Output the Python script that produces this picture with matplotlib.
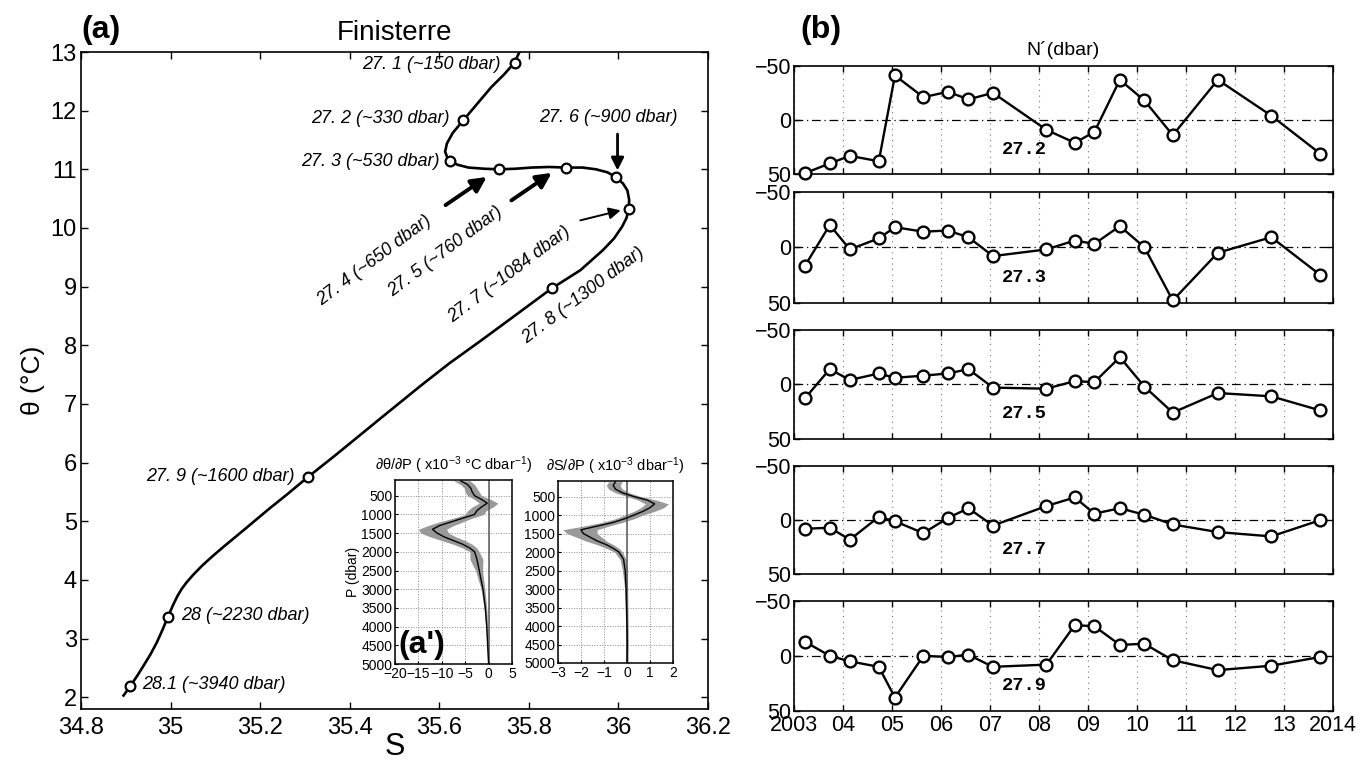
import matplotlib
matplotlib.use('Agg')
import matplotlib.pyplot as plt

plt.rcParams['font.family'] = ['Liberation Sans', 'DejaVu Sans']
plt.rcParams['mathtext.fontset'] = 'custom'
plt.rcParams['mathtext.rm'] = 'Liberation Sans'
plt.rcParams['mathtext.it'] = 'Liberation Sans:italic'
plt.rcParams['axes.unicode_minus'] = True

# ---------------- Data: theta-S curve (Finisterre) ----------------
ts_S = [35.779, 35.768, 35.745, 35.716, 35.685, 35.654, 35.630, 35.617, 35.613, 35.618,
        35.625, 35.640, 35.665, 35.700, 35.733, 35.770, 35.806, 35.845, 35.883, 35.920,
        35.950, 35.975, 35.994, 36.010, 36.020, 36.024, 36.023, 36.018, 36.008, 35.990,
        35.965, 35.915, 35.851, 35.766, 35.693, 35.622, 35.560, 35.510, 35.468, 35.428,
        35.367, 35.306, 35.262, 35.218, 35.168, 35.119, 35.093, 35.070, 35.052, 35.037,
        35.025, 35.015, 35.006, 34.994, 34.982, 34.969, 34.955, 34.939, 34.925, 34.910,
        34.895]
ts_theta = [13.0, 12.82, 12.62, 12.40, 12.12, 11.84, 11.62, 11.44, 11.30, 11.20,
            11.14, 11.08, 11.03, 11.01, 11.0, 11.01, 11.03, 11.04, 11.03, 11.03,
            11.0, 10.95, 10.87, 10.76, 10.64, 10.48, 10.33, 10.17, 10.02, 9.82,
            9.62, 9.28, 8.97, 8.49, 8.08, 7.69, 7.32, 7.01, 6.75, 6.50,
            6.12, 5.75, 5.47, 5.20, 4.88, 4.57, 4.40, 4.24, 4.10, 3.97,
            3.85, 3.72, 3.58, 3.37, 3.15, 2.93, 2.73, 2.53, 2.36, 2.19,
            2.03]

iso_S = [35.768, 35.654, 35.625, 35.733, 35.883, 35.994, 36.023, 35.851, 35.306, 34.994, 34.910]
iso_theta = [12.82, 11.84, 11.14, 11.0, 11.03, 10.87, 10.33, 8.97, 5.75, 3.37, 2.19]
iso_labels = ['27. 1 (~150 dbar)', '27. 2 (~330 dbar)', '27. 3 (~530 dbar)',
              '27. 4 (~650 dbar)', '27. 5 (~760 dbar)', '27. 6 (~900 dbar)',
              '27. 7 (~1084 dbar)', '27. 8 (~1300 dbar)', '27. 9 (~1600 dbar)',
              '28 (~2230 dbar)', '28.1 (~3940 dbar)']

# ---------------- Data: inset profiles ----------------
inset_P = [100, 200, 300, 400, 500, 600, 700, 800, 900, 1000, 1100, 1200, 1300, 1400,
           1500, 1600, 1700, 1800, 1900, 2000, 2200, 2500, 3000, 3500, 4000, 4500, 5000]
dtheta_mean = [-6.0, -4.5, -3.8, -3.5, -3.0, -1.5, -0.3, -1.5, -2.5, -3.0, -5.5, -8.0, -10.5, -12.0,
               -11.0, -9.5, -7.5, -5.5, -4.0, -3.0, -2.5, -2.0, -1.2, -0.7, -0.4, -0.2, 0.0]
dtheta_lo = [-7.5, -6.0, -5.2, -5.0, -4.5, -3.0, -2.0, -3.5, -4.5, -5.0, -7.5, -10.5, -13.0, -15.0,
             -14.5, -12.5, -10.0, -7.5, -5.5, -4.0, -4.0, -2.8, -1.6, -1.0, -0.6, -0.35, -0.2]
dtheta_hi = [-4.0, -3.0, -2.5, -2.0, -1.5, 0.5, 2.0, 1.0, -0.5, -1.0, -3.5, -5.5, -7.5, -9.0,
             -8.5, -7.0, -5.0, -3.5, -2.5, -2.0, -1.2, -1.3, -0.8, -0.4, -0.2, -0.05, 0.1]
dS_mean = [-0.5, -0.6, -0.5, -0.2, 0.3, 0.9, 1.2, 1.0, 0.7, 0.3, -0.1, -0.6, -1.3, -2.0,
           -1.9, -1.6, -1.3, -0.9, -0.6, -0.35, -0.15, -0.08, -0.04, -0.02, 0.0, 0.01, 0.0]
dS_lo = [-0.8, -0.9, -0.8, -0.5, 0.0, 0.5, 0.8, 0.6, 0.3, -0.1, -0.5, -1.1, -1.9, -2.8,
         -2.6, -2.2, -1.8, -1.3, -0.9, -0.55, -0.3, -0.2, -0.1, -0.08, -0.06, -0.05, -0.05]
dS_hi = [-0.2, -0.3, -0.2, 0.1, 0.6, 1.3, 1.8, 1.6, 1.2, 0.7, 0.3, -0.2, -0.8, -1.3,
         -1.3, -1.1, -0.9, -0.6, -0.35, -0.2, -0.05, 0.02, 0.03, 0.04, 0.05, 0.06, 0.05]

# ---------------- Data: N' time series ----------------
dates = [2003.22, 2003.73, 2004.14, 2004.73, 2005.06, 2005.64, 2006.14, 2006.56, 2007.06,
         2008.15, 2008.73, 2009.13, 2009.65, 2010.15, 2010.73, 2011.65, 2012.74, 2013.74]
n_27_2 = [49, 40, 33, 38, -41, -21, -26, -19, -25, 9, 21, 11, -37, -18, 14, -37, -4, 31]
n_27_3 = [17, -20, 2, -8, -18, -14, -15, -9, 8, 2, -6, -3, -19, 0, 48, 5, -9, 25]
n_27_5 = [13, -14, -4, -10, -6, -8, -10, -14, 3, 4, -3, -2, -25, 2, 26, 8, 11, 24]
n_27_7 = [8, 7, 18, -3, 1, 12, -2, -11, 5, -13, -21, -6, -11, -5, 4, 11, 15, 0]
n_27_9 = [-13, 0, 5, 10, 38, 0, 1, -1, 10, 8, -28, -27, -10, -11, 4, 13, 9, 1]
series = [n_27_2, n_27_3, n_27_5, n_27_7, n_27_9]
series_names = ['27.2', '27.3', '27.5', '27.7', '27.9']
year_ticks = list(range(2003, 2015))
year_labels = ['2003', '04', '05', '06', '07', '08', '09', '10', '11', '12', '13', '2014']

# ---------------- Figure ----------------
W, H = 1366, 765
fig = plt.figure(figsize=(W / 100, H / 100), dpi=100)


def px(x0, y0, x1, y1):
    return [x0 / W, 1 - y1 / H, (x1 - x0) / W, (y1 - y0) / H]


def matlab_ticks(ax, size, pad_x, pad_y):
    ax.tick_params(direction='in', top=True, right=True, length=5, width=1,
                   labelsize=size, colors='k')
    ax.tick_params(axis='x', pad=pad_x)
    ax.tick_params(axis='y', pad=pad_y)
    for sp in ax.spines.values():
        sp.set_linewidth(1.2)


# ---- panel (a) ----
ax = fig.add_axes(px(81, 52, 708, 709))
ax.plot(ts_S, ts_theta, color='k', lw=1.9, zorder=3)
ax.plot(iso_S, iso_theta, 'o', mfc='white', mec='k', mew=1.6, ms=7, zorder=4)
ax.set_xlim(34.8, 36.2)
ax.set_ylim(1.8, 13)
ax.set_xticks([34.8, 35.0, 35.2, 35.4, 35.6, 35.8, 36.0, 36.2])
ax.set_xticklabels(['34.8', '35', '35.2', '35.4', '35.6', '35.8', '36', '36.2'])
ax.set_yticks(range(2, 14))
matlab_ticks(ax, 17, 6, 3)
ax.set_xlabel('S', fontsize=22, labelpad=-5)
ax.set_ylabel('θ (°C)', fontsize=19, labelpad=4)
ax.set_title('Finisterre', fontsize=20, pad=9)

lab_kw = dict(fontsize=13, style='italic', va='center')
ax.text(35.736, 12.78, iso_labels[0], ha='right', **lab_kw)
ax.text(35.622, 11.86, iso_labels[1], ha='right', **lab_kw)
ax.text(35.600, 11.13, iso_labels[2], ha='right', **lab_kw)
ax.text(35.977, 11.88, iso_labels[5], ha='center', **lab_kw)
ax.text(35.278, 5.76, iso_labels[8], ha='right', **lab_kw)
ax.text(35.024, 3.40, iso_labels[9], ha='left', **lab_kw)
ax.text(34.937, 2.21, iso_labels[10], ha='left', **lab_kw)
rot_kw = dict(fontsize=13, style='italic', ha='center', va='center', rotation=37,
              rotation_mode='anchor')
ax.text(35.455, 9.45, iso_labels[3], **rot_kw)
ax.text(35.614, 9.60, iso_labels[4], **rot_kw)
ax.text(35.756, 9.20, iso_labels[6], **rot_kw)
ax.text(35.922, 8.85, iso_labels[7], **rot_kw)

ax.annotate('', xy=(35.706, 10.87), xytext=(35.614, 10.39),
            arrowprops=dict(arrowstyle='-|>,head_length=0.5,head_width=0.25', lw=2.8,
                            color='k', mutation_scale=18, shrinkA=0, shrinkB=0))
ax.annotate('', xy=(35.851, 10.94), xytext=(35.761, 10.47),
            arrowprops=dict(arrowstyle='-|>,head_length=0.5,head_width=0.25', lw=2.8,
                            color='k', mutation_scale=18, shrinkA=0, shrinkB=0))
ax.annotate('', xy=(35.998, 10.98), xytext=(35.998, 11.6),
            arrowprops=dict(arrowstyle='-|>,head_length=0.5,head_width=0.25', lw=2.0,
                            color='k', mutation_scale=15, shrinkA=0, shrinkB=0))
ax.annotate('', xy=(36.005, 10.30), xytext=(35.915, 10.13),
            arrowprops=dict(arrowstyle='-|>,head_length=0.5,head_width=0.25', lw=1.4,
                            color='k', mutation_scale=14, shrinkA=0, shrinkB=0))

fig.text(101 / W, 1 - 30 / H, '(a)', fontsize=23, fontweight='bold', ha='center', va='center')

# ---- insets (a') ----
ins1 = fig.add_axes(px(395, 480, 512, 664))
ins2 = fig.add_axes(px(558, 481, 673, 663))
for axi, lo, hi, mean, xl, xt, ttl in [
        (ins1, dtheta_lo, dtheta_hi, dtheta_mean, (-20, 5), [-20, -15, -10, -5, 0, 5],
         '∂θ/∂P ( x10$^{-3}$ °C dbar$^{-1}$)'),
        (ins2, dS_lo, dS_hi, dS_mean, (-3, 2), [-3, -2, -1, 0, 1, 2],
         '∂S/∂P ( x10$^{-3}$ dbar$^{-1}$)')]:
    axi.set_facecolor('white')
    axi.fill_betweenx(inset_P, lo, hi, color='0.6', lw=0, zorder=2)
    axi.axvline(0, color='0.35', lw=1.1, zorder=2.5)
    axi.plot(mean, inset_P, color='k', lw=1.0, zorder=3)
    axi.set_xlim(*xl)
    axi.set_ylim(5000, 80)
    axi.set_xticks(xt)
    axi.set_yticks(range(500, 5001, 500))
    axi.grid(True, ls=':', color='0.55', lw=0.7)
    axi.tick_params(direction='in', length=2.5, labelsize=10, pad=2)
    for sp in axi.spines.values():
        sp.set_linewidth(1.1)
    axi.set_title(ttl, fontsize=10.5, pad=7)
ins1.set_ylabel('P (dbar)', fontsize=10, labelpad=1)
ins1.text(0.03, 0.02, "(a')", transform=ins1.transAxes, fontsize=23, fontweight='bold',
          ha='left', va='bottom', zorder=5)

# ---- panel (b) ----
panel_px = [(65.7, 174.3), (191.7, 302.7), (330, 438.7), (466, 574.3), (601, 710.7)]
for i, ((y0, y1), vals, name) in enumerate(zip(panel_px, series, series_names)):
    axb = fig.add_axes(px(794, y0, 1333, y1))
    axb.axhline(0, color='k', lw=0.9, ls=(0, (7, 3, 1, 3)), zorder=1)
    axb.plot(dates, vals, '-o', color='k', lw=1.7, mfc='white', mec='k', mew=1.7, ms=8.5,
             zorder=3, clip_on=False)
    axb.set_xlim(2003, 2014)
    axb.set_ylim(50, -50)
    axb.set_yticks([-50, 0, 50])
    axb.set_xticks(year_ticks)
    axb.xaxis.grid(True, ls=(0, (1, 4)), color='0.45', lw=0.8)
    matlab_ticks(axb, 15.5, 3, 2)
    axb.tick_params(length=4)
    if i == 4:
        axb.set_xticklabels(year_labels)
    else:
        axb.set_xticklabels([])
    axb.text(2007.7, 27, name, fontsize=13.5, fontweight='bold', family='Liberation Mono',
             ha='center', va='center')
    if i == 0:
        axb.set_title('N´(dbar)', fontsize=14, pad=8)

fig.text(821 / W, 1 - 30 / H, '(b)', fontsize=23, fontweight='bold', ha='center', va='center')

fig.savefig('out.png', dpi=100)
